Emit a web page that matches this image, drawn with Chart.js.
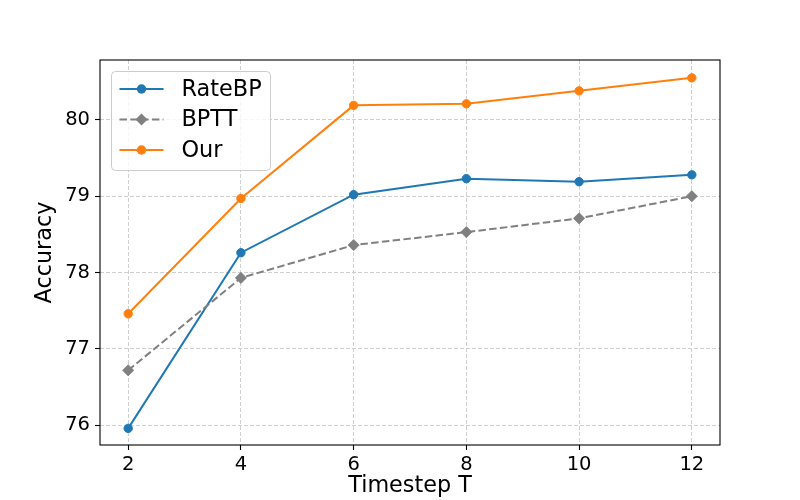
<!DOCTYPE html>
<html><head><meta charset="utf-8">
<script src="https://cdn.jsdelivr.net/npm/chart.js@4"></script>
<style>html,body{margin:0;padding:0;background:#fff}</style>
</head><body>
<div style="width:800px;height:500px"><canvas id="c" width="800" height="500"></canvas></div>
<script>
const timesteps = [2, 4, 6, 8, 10, 12];
const rateBP = [75.96, 78.26, 79.02, 79.23, 79.19, 79.28];
const bptt = [76.72, 77.93, 78.36, 78.53, 78.71, 79.00];
const our = [77.46, 78.97, 80.19, 80.21, 80.38, 80.55];
const xTicks = [2, 4, 6, 8, 10, 12];
const yTicks = [76, 77, 78, 79, 80];
const seriesNames = ['RateBP', 'BPTT', 'Our'];

const FONT = 'DejaVu Sans';
const toPts = (arr) => arr.map((v, i) => ({x: timesteps[i], y: v}));

const overlay = {
  id: 'overlay',
  afterDatasetsDraw(chart) {
    const {ctx, chartArea: a} = chart;
    ctx.save();
    ctx.strokeStyle = '#000';
    ctx.lineWidth = 1.1;
    ctx.setLineDash([]);
    ctx.strokeRect(a.left, a.top, a.right - a.left, a.bottom - a.top);

    // legend
    const lx = a.left + 11.5, ly = a.top + 11.5, lw = 159, lh = 99, r = 4;
    ctx.beginPath();
    ctx.moveTo(lx + r, ly);
    ctx.lineTo(lx + lw - r, ly);
    ctx.arcTo(lx + lw, ly, lx + lw, ly + r, r);
    ctx.lineTo(lx + lw, ly + lh - r);
    ctx.arcTo(lx + lw, ly + lh, lx + lw - r, ly + lh, r);
    ctx.lineTo(lx + r, ly + lh);
    ctx.arcTo(lx, ly + lh, lx, ly + lh - r, r);
    ctx.lineTo(lx, ly + r);
    ctx.arcTo(lx, ly, lx + r, ly, r);
    ctx.closePath();
    ctx.fillStyle = 'rgba(255,255,255,0.8)';
    ctx.fill();
    ctx.strokeStyle = '#cccccc';
    ctx.lineWidth = 1;
    ctx.stroke();

    chart.data.datasets.forEach((ds, i) => {
      const cy = ly + 17.5 + i * 30.5;
      ctx.strokeStyle = ds.borderColor;
      ctx.lineWidth = ds.borderWidth;
      ctx.setLineDash(ds.borderDash || []);
      ctx.beginPath();
      ctx.moveTo(lx + 8, cy);
      ctx.lineTo(lx + 52, cy);
      ctx.stroke();
      ctx.setLineDash([]);
      const mx = lx + 30;
      ctx.fillStyle = ds.pointBackgroundColor;
      ctx.beginPath();
      if (ds.pointStyle === 'rectRot') {
        const rr = ds.pointRadius + 0.4;
        ctx.moveTo(mx, cy - rr); ctx.lineTo(mx + rr, cy);
        ctx.lineTo(mx, cy + rr); ctx.lineTo(mx - rr, cy);
        ctx.closePath();
      } else {
        ctx.arc(mx, cy, ds.pointRadius + 0.5, 0, Math.PI * 2);
      }
      ctx.fill();
      ctx.fillStyle = '#000';
      ctx.font = '22.4px "' + FONT + '"';
      ctx.textBaseline = 'middle';
      ctx.textAlign = 'left';
      ctx.fillText(ds.label, lx + 70, cy + 1);
    });
    ctx.restore();
  }
};

const gridCommon = {
  color: '#d0d0d0',
  lineWidth: 1,
  drawTicks: true,
  tickLength: 5,
  tickColor: '#000',
  tickWidth: 1.1,
  tickBorderDash: []
};

new Chart(document.getElementById('c'), {
  type: 'line',
  data: {
    datasets: [
      {label: seriesNames[0], data: toPts(rateBP), borderColor: '#1f77b4', backgroundColor: '#1f77b4',
       pointBackgroundColor: '#1f77b4', pointBorderColor: '#1f77b4', borderWidth: 2, pointRadius: 4.2,
       pointBorderWidth: 1, pointStyle: 'circle', order: 2, tension: 0},
      {label: seriesNames[1], data: toPts(bptt), borderColor: '#808080', backgroundColor: '#808080',
       pointBackgroundColor: '#808080', pointBorderColor: '#808080', borderWidth: 2, borderDash: [7.5, 3.3],
       pointRadius: 5.6, pointBorderWidth: 0.8, pointStyle: 'rectRot', order: 1, tension: 0},
      {label: seriesNames[2], data: toPts(our), borderColor: '#ff7f0e', backgroundColor: '#ff7f0e',
       pointBackgroundColor: '#ff7f0e', pointBorderColor: '#ff7f0e', borderWidth: 2, pointRadius: 4.2,
       pointBorderWidth: 1, pointStyle: 'circle', order: 0, tension: 0}
    ]
  },
  options: {
    responsive: false,
    animation: false,
    devicePixelRatio: 1,
    layout: {padding: {left: 0, top: 60, right: 80, bottom: 0}},
    plugins: {legend: {display: false}, tooltip: {enabled: false}},
    scales: {
      x: {
        type: 'linear', min: 1.5, max: 12.5,
        afterBuildTicks: (s) => { s.ticks = xTicks.map(v => ({value: v})); },
        afterFit: (s) => { s.height = 55; },
        ticks: {font: {family: FONT, size: 19.5}, color: '#000', padding: 3, autoSkip: false, maxRotation: 0},
        grid: gridCommon,
        border: {display: false, dash: [4, 2]},
        title: {display: true, text: 'Timestep T', color: '#000', font: {family: FONT, size: 22.3}, padding: {top: 0, bottom: 0}}
      },
      y: {
        type: 'linear', min: 75.742, max: 80.784,
        afterBuildTicks: (s) => { s.ticks = yTicks.map(v => ({value: v})); },
        afterFit: (s) => { s.width = 100; },
        ticks: {font: {family: FONT, size: 19.5}, color: '#000', padding: 5, autoSkip: false},
        grid: gridCommon,
        border: {display: false, dash: [4, 2]},
        title: {display: true, text: 'Accuracy', color: '#000', font: {family: FONT, size: 22.3}, padding: {top: 32, bottom: 0}}
      }
    }
  },
  plugins: [overlay]
});
</script>
</body></html>
